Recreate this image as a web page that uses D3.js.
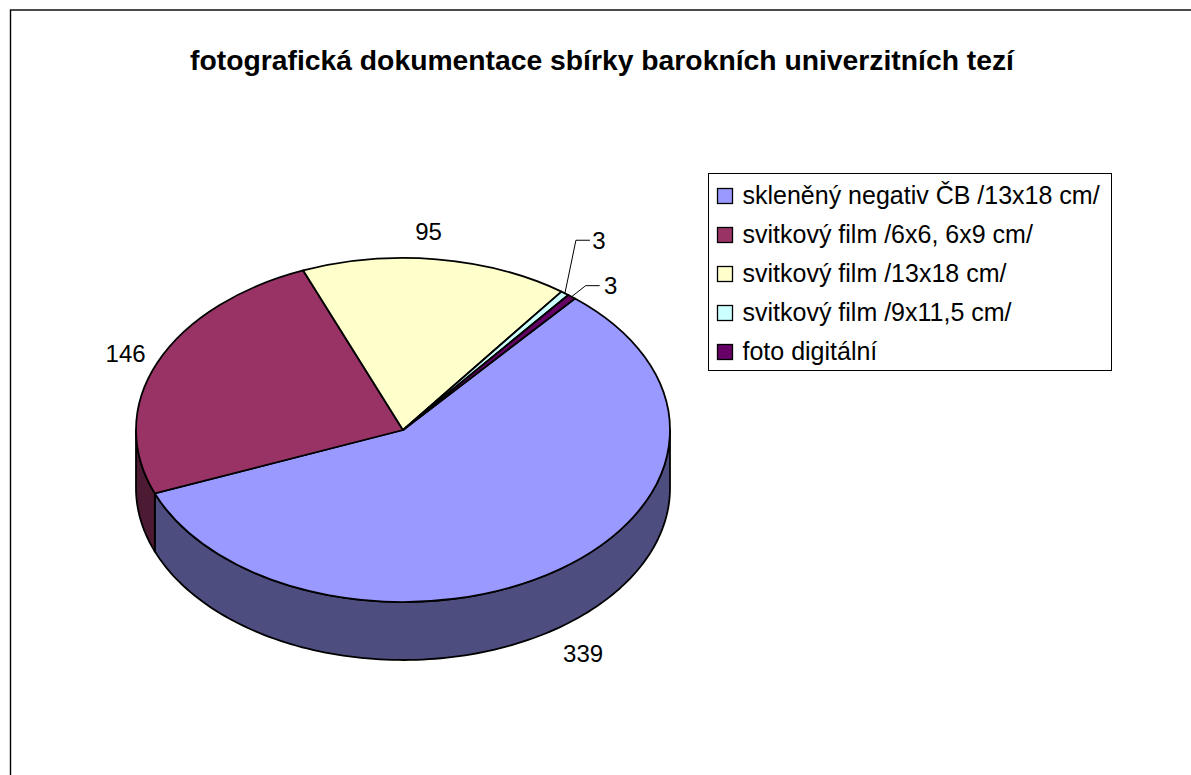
<!DOCTYPE html>
<html><head><meta charset="utf-8">
<style>html,body{margin:0;padding:0;background:#fff}svg{display:block}text{font-family:"Liberation Sans",Arial,sans-serif;fill:#000}</style>
<script src="https://cdn.jsdelivr.net/npm/d3@7"></script></head>
<body><svg id="c" width="1191" height="775"></svg>
<script>
const categories = ["skleněný negativ ČB /13x18 cm/","svitkový film /6x6, 6x9 cm/","svitkový film /13x18 cm/","svitkový film /9x11,5 cm/","foto digitální"];
const values = [339,146,95,3,3];
const colors = ["#9999FF","#993366","#FFFFCC","#CCFFFF","#660066"];
const sideColors = ["#4D4D80","#4D1A33","#80806A","#6A8080","#330033"];
const title = "fotografická dokumentace sbírky barokních univerzitních tezí";
// layout: label offset from slice's rim midpoint; leader elbow offsets
const labelOffsets = [[24,84],[-32,-9],[-8,-28],[34,-53],[39,-11]];
const leaderOffsets = [null,null,null,[[11,-53],[25,-53]],[[14,-11],[28,-11]]];

const W=1191,H=775,cx=403,cy=430,rx=267,ry=172,depth=58;
const startAngle=40.1*Math.PI/180;
const svg=d3.select("#c");
svg.append("rect").attr("x",10.5).attr("y",10).attr("width",1300).attr("height",900).attr("fill","#fff").attr("stroke","#000").attr("stroke-width",1.4);
svg.append("text").attr("x",602).attr("y",70).attr("text-anchor","middle").attr("font-weight","bold").attr("font-size",28.3).text(title);

const pie=d3.pie().sort(null).startAngle(startAngle).endAngle(startAngle+2*Math.PI);
const arcs=pie(values);
const pt=(a,dy=0)=>[cx+rx*Math.sin(a),cy-ry*Math.cos(a)+dy];
const line=d3.line();
const front=[Math.PI/2,3*Math.PI/2];
const gs=svg.append("g");
arcs.forEach((d,i)=>{
  for(const shift of [0,2*Math.PI]){
    const a0=Math.max(d.startAngle,front[0]+shift),a1=Math.min(d.endAngle,front[1]+shift);
    if(a1<=a0)continue;
    const as=d3.range(0,121).map(k=>a0+(a1-a0)*k/120);
    const p=as.map(a=>pt(a)).concat(as.slice().reverse().map(a=>pt(a,depth)));
    gs.append("path").attr("d",line(p)+"Z").attr("fill",sideColors[i]).attr("stroke","#000").attr("stroke-width",1.8).attr("stroke-linejoin","round");
  }
});
const arc=d3.arc().innerRadius(0).outerRadius(rx);
svg.append("g").attr("transform",`translate(${cx},${cy}) scale(1,${ry/rx})`)
  .selectAll("path").data(arcs).join("path").attr("d",arc)
  .attr("fill",(d,i)=>colors[i]).attr("stroke","#000").attr("stroke-width",1.8)
  .attr("stroke-linejoin","round").attr("vector-effect","non-scaling-stroke");
arcs.forEach((d,i)=>{
  const m=pt((d.startAngle+d.endAngle)/2);
  if(leaderOffsets[i]){
    const l=[m,...leaderOffsets[i].map(o=>[m[0]+o[0],m[1]+o[1]])];
    svg.append("path").attr("d",line(l)).attr("fill","none").attr("stroke","#000").attr("stroke-width",1);
  }
  svg.append("text").attr("x",m[0]+labelOffsets[i][0]).attr("y",m[1]+labelOffsets[i][1]+8.5)
    .attr("text-anchor","middle").attr("font-size",24).text(values[i]);
});
const lg=svg.append("g").attr("transform","translate(708.5,173.5)");
lg.append("rect").attr("width",403).attr("height",197).attr("fill","#fff").attr("stroke","#000").attr("stroke-width",1);
const ly=d3.scalePoint().domain(categories).range([22,178]);
categories.forEach((c,i)=>{
  lg.append("rect").attr("x",9).attr("y",ly(c)-7).attr("width",15).attr("height",15).attr("fill",colors[i]).attr("stroke","#000").attr("stroke-width",1.3);
  lg.append("text").attr("x",34).attr("y",ly(c)+8.5).attr("font-size",25).text(c);
});
</script></body></html>
